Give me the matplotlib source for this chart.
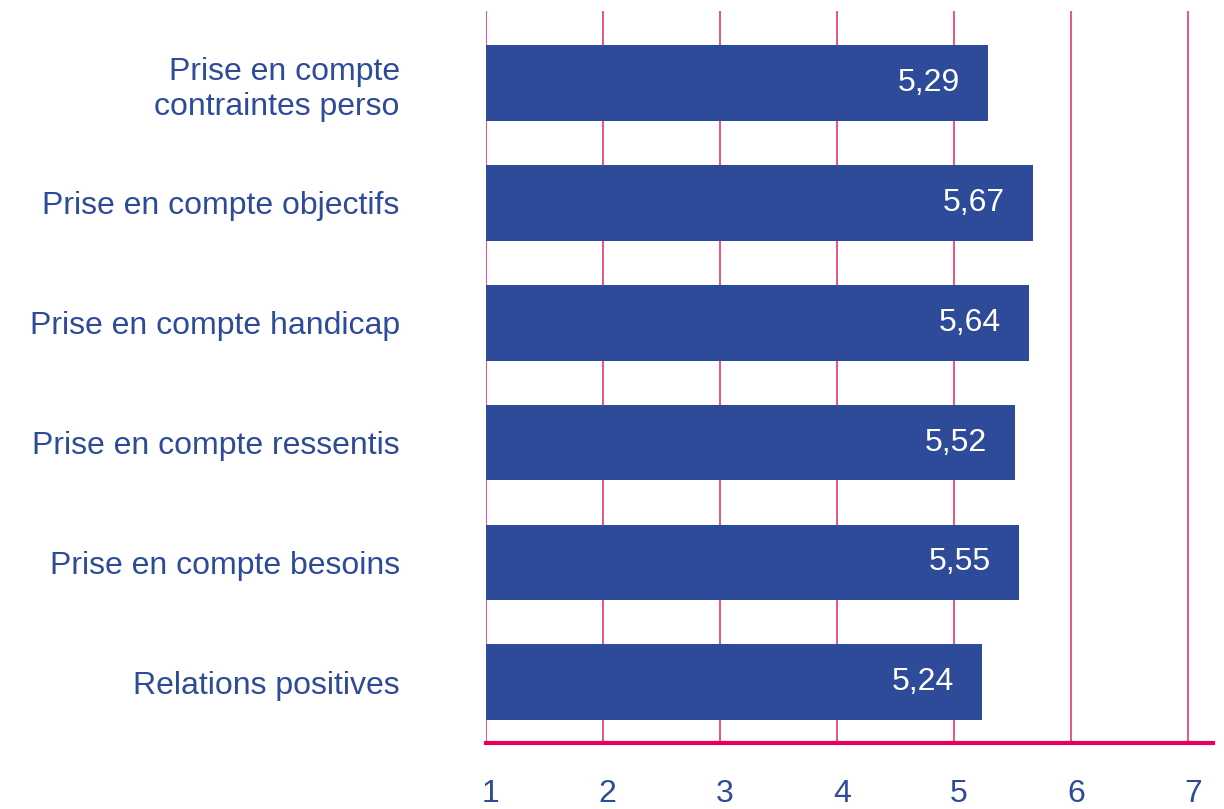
import matplotlib.pyplot as plt
import matplotlib.transforms as mtransforms

plt.rcParams['font.family'] = ['Liberation Sans', 'DejaVu Sans']

# data, top to bottom as in the picture
categories = ['Prise en compte\ncontraintes perso',
              'Prise en compte objectifs',
              'Prise en compte handicap',
              'Prise en compte ressentis',
              'Prise en compte besoins',
              'Relations positives']
scores = [5.29, 5.67, 5.64, 5.52, 5.55, 5.24]
value_labels = ['5,29', '5,67', '5,64', '5,52', '5,55', '5,24']
xticks = [1, 2, 3, 4, 5, 6, 7]

blue = '#2E4B99'
pink = '#E8457F'
axis_pink = '#E6005C'

fig = plt.figure(figsize=(12.24, 8.09), dpi=100)
ax = fig.add_axes([0.397, 0.0816, 0.594, 0.9044])

ypos = list(range(len(categories)))[::-1]
widths = [s - 1 for s in scores]
ax.barh(ypos, widths, left=1, height=0.63, color=blue, zorder=3)

for y, s, lab in zip(ypos, scores, value_labels):
    ax.text(s - 0.24, y, lab, color='white', fontsize=23,
            ha='right', va='center', zorder=4)

for x in xticks:
    ax.axvline(x, color=pink, lw=1.3, zorder=1)

ax.set_xlim(1, 7.21)
ax.set_ylim(-0.508, 5.6)

ax.set_yticks(ypos)
ax.set_yticklabels(categories, fontsize=23, color=blue, linespacing=1.22)
ax.tick_params(axis='y', length=0, pad=62)

ax.set_xticks(xticks)
ax.set_xticklabels([str(x) for x in xticks], fontsize=23, color=blue, ha='left')
ax.tick_params(axis='x', length=0, pad=26)
offset = mtransforms.ScaledTranslation(-3 / 72, 0, fig.dpi_scale_trans)
for lab in ax.get_xticklabels():
    lab.set_transform(lab.get_transform() + offset)

for side in ['left', 'right', 'top']:
    ax.spines[side].set_visible(False)
ax.spines['bottom'].set_color(axis_pink)
ax.spines['bottom'].set_linewidth(3)
ax.spines['bottom'].set_zorder(5)

fig.savefig('out.png', dpi=100)
